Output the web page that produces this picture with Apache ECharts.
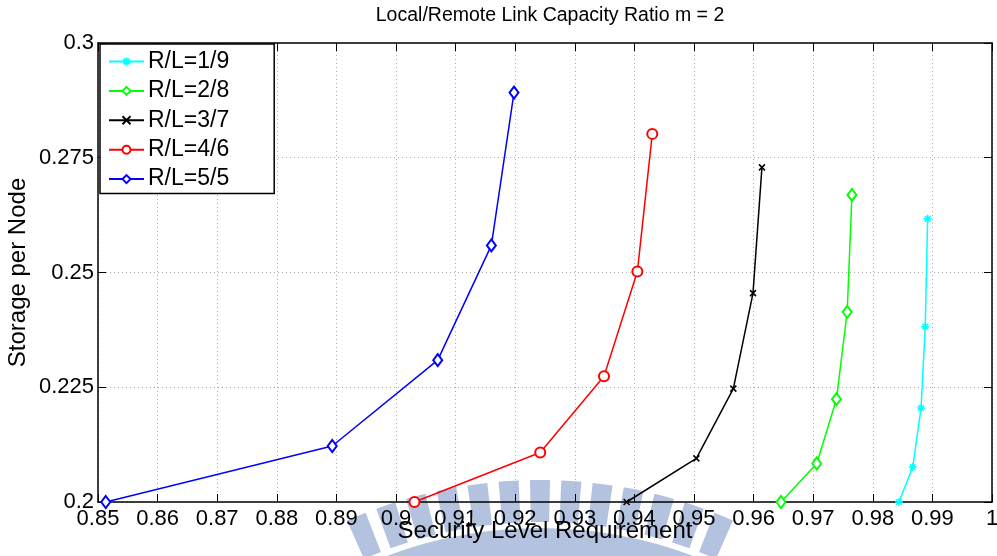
<!DOCTYPE html>
<html>
<head>
<meta charset="utf-8">
<script src="https://cdn.jsdelivr.net/npm/echarts@6/dist/echarts.min.js"></script>
<style>
html,body{margin:0;padding:0;background:#fff;}
#chart{width:997px;height:556px;}
</style>
</head>
<body>
<div id="chart"></div>
<script>
// ---- data ----
const seriesNames = ['R/L=1/9', 'R/L=2/8', 'R/L=3/7', 'R/L=4/6', 'R/L=5/5'];
const x_1_9 = [0.9844, 0.9867, 0.9881, 0.9888, 0.9892];
const y_1_9 = [0.2000, 0.2076, 0.2205, 0.2382, 0.2617];
const x_2_8 = [0.9646, 0.9706, 0.9739, 0.9757, 0.9765];
const y_2_8 = [0.2000, 0.2084, 0.2224, 0.2414, 0.2669];
const x_3_7 = [0.9387, 0.9504, 0.9566, 0.9599, 0.9614];
const y_3_7 = [0.2000, 0.2095, 0.2247, 0.2455, 0.2729];
const x_4_6 = [0.9031, 0.9242, 0.9349, 0.9405, 0.9430];
const y_4_6 = [0.2000, 0.2108, 0.2274, 0.2502, 0.2802];
const x_5_5 = [0.8513, 0.8893, 0.9070, 0.9160, 0.9198];
const y_5_5 = [0.2000, 0.2122, 0.2309, 0.2559, 0.2892];
const xTicks = {min: 0.85, max: 1.0, step: 0.01};
const yTicks = {min: 0.2, max: 0.3, step: 0.025};
const titleText = 'Local/Remote Link Capacity Ratio m = 2';
const xName = 'Security Level Requirement';
const yName = 'Storage per Node';

// ---- styling ----
const FONT = '"Liberation Sans", Arial, Helvetica, sans-serif';
const colors = ['#00FFFF', '#00FF00', '#000000', '#FF0000', '#0000FF'];
const symbols = [
  'path://M5,0 L5,10 M0,5 L10,5 M1.5,1.5 L8.5,8.5 M8.5,1.5 L1.5,8.5',
  'emptyDiamond',
  'path://M0,0 L10,10 M10,0 L0,10',
  'emptyCircle',
  'emptyDiamond'
];
const symbolSizes = [8, [9, 12], 6, 10, [9, 12]];
const xs = [x_1_9, x_2_8, x_3_7, x_4_6, x_5_5];
const ys = [y_1_9, y_2_8, y_3_7, y_4_6, y_5_5];

const series = seriesNames.map((name, i) => ({
  name: name,
  type: 'line',
  xAxisIndex: 0,
  yAxisIndex: 0,
  data: xs[i].map((x, k) => [x, ys[i][k]]),
  symbol: symbols[i],
  symbolSize: symbolSizes[i],
  showAllSymbol: true,
  clip: false,
  lineStyle: {color: colors[i], width: 1.5},
  itemStyle: {color: colors[i], borderColor: colors[i], borderWidth: 1.5},
  emphasis: {disabled: true},
  z: 3
}));

// faint background emblem (decoration only)
const wm = [];
const wmCx = 540, wmCy = 960;
for (let a = -22.5; a <= 22.51; a += 3.75) {
  const c = (-90 + a) * Math.PI / 180, h = 1.2 * Math.PI / 180;
  wm.push({type: 'sector', z: -1, silent: true,
    shape: {cx: wmCx, cy: wmCy, r0: 438, r: 480, startAngle: c - h, endAngle: c + h},
    style: {fill: '#b3c2df'}});
}
wm.push({type: 'sector', z: -1, silent: true,
  shape: {cx: wmCx, cy: wmCy, r0: 395, r: 432, startAngle: (-90 - 26) * Math.PI / 180, endAngle: (-90 + 26) * Math.PI / 180},
  style: {fill: '#b3c2df'}});

const axisBase = {
  axisLine: {show: true, onZero: false, lineStyle: {color: '#000', width: 1.5}},
  axisTick: {show: true, inside: true, length: 8, lineStyle: {color: '#000', width: 1}}
};

const option = {
  animation: false,
  backgroundColor: '#fff',
  textStyle: {fontFamily: FONT},
  title: {
    text: titleText, left: 545, top: 1, textAlign: 'center',
    textStyle: {fontFamily: FONT, fontSize: 19.5, fontWeight: 'normal', color: '#000'}
  },
  graphic: wm,
  grid: {left: 98, right: 5, top: 43, bottom: 54, containLabel: false, outerBoundsMode: 'none'},
  legend: {
    orient: 'vertical', left: 100, top: 44,
    data: seriesNames,
    itemWidth: 35, itemHeight: 10, itemGap: 6.4,
    padding: [6, 45, 3, 8],
    backgroundColor: '#fff', borderColor: '#000', borderWidth: 1.5, borderRadius: 0,
    textStyle: {fontFamily: FONT, fontSize: 23, color: '#000', padding: [0, 0, 0, -1]},
    z: 10
  },
  xAxis: [
    Object.assign({}, axisBase, {
      type: 'value', position: 'bottom', min: xTicks.min, max: xTicks.max, interval: xTicks.step,
      name: xName, nameLocation: 'middle', nameGap: 17, nameMoveOverlap: false,
      nameTextStyle: {fontFamily: FONT, fontSize: 24, color: '#000'},
      axisLabel: {fontFamily: FONT, fontSize: 22, color: '#000', margin: 6},
      splitLine: {show: true, lineStyle: {color: '#aaa', width: 1, type: [1, 3]}}
    }),
    Object.assign({}, axisBase, {
      type: 'value', position: 'top', min: xTicks.min, max: xTicks.max, interval: xTicks.step,
      axisLabel: {show: false}, splitLine: {show: false}
    })
  ],
  yAxis: [
    Object.assign({}, axisBase, {
      type: 'value', position: 'left', min: yTicks.min, max: yTicks.max, interval: yTicks.step,
      name: yName, nameLocation: 'middle', nameGap: 68, nameRotate: 90, nameMoveOverlap: false,
      nameTextStyle: {fontFamily: FONT, fontSize: 24, color: '#000'},
      axisLabel: {fontFamily: FONT, fontSize: 22, color: '#000', margin: 4},
      splitLine: {show: true, lineStyle: {color: '#aaa', width: 1, type: [1, 3]}}
    }),
    Object.assign({}, axisBase, {
      type: 'value', position: 'right', min: yTicks.min, max: yTicks.max, interval: yTicks.step,
      axisLabel: {show: false}, splitLine: {show: false}
    })
  ],
  series: series
};

const chart = echarts.init(document.getElementById('chart'), null, {renderer: 'canvas'});
chart.setOption(option);
</script>
</body>
</html>
